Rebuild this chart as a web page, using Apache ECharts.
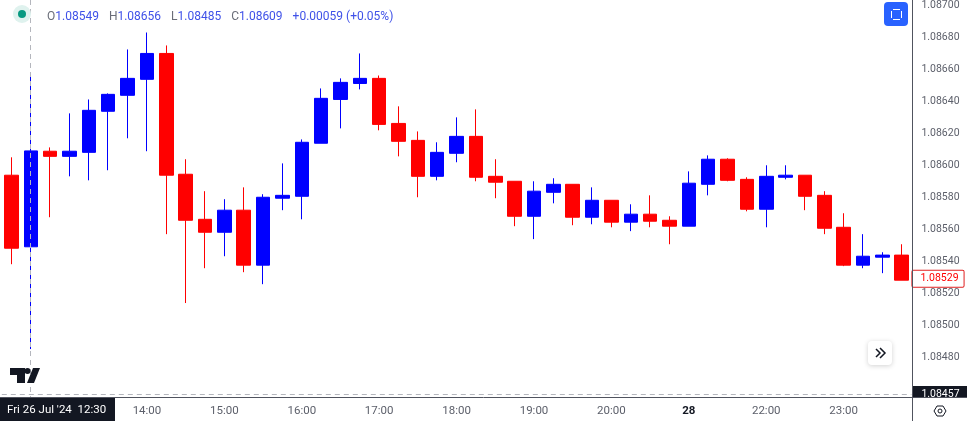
<!DOCTYPE html>
<html>
<head>
<meta charset="utf-8">
<title>EURUSD 15m</title>
<script src="https://cdn.jsdelivr.net/npm/echarts@6/dist/echarts.min.js"></script>
<style>
  html, body { margin: 0; padding: 0; background: #fff; }
  #chart { width: 967px; height: 421px; }
</style>
</head>
<body>
<div id="chart"></div>
<script>
var categories = ["12:15","12:30","12:45","13:00","13:15","13:30","13:45","14:00","14:15","14:30","14:45","15:00",
  "15:15","15:30","15:45","16:00","16:15","16:30","16:45","17:00","17:15","17:30","17:45","18:00",
  "18:15","18:30","18:45","19:00","19:15","19:30","19:45","20:00","20:15","20:30","20:45","28",
  "21:15","21:30","21:45","22:00","22:15","22:30","22:45","23:00","23:15","23:30","23:45"];
var opens = [1.085938,1.085490,1.086088,1.086056,1.086081,1.086338,1.086438,1.086538,1.086700,1.085944,1.085662,1.085581,
  1.085719,1.085375,1.085794,1.085806,1.086138,1.086412,1.086512,1.086544,1.086262,1.086156,1.085931,1.086075,
  1.086181,1.085931,1.085900,1.085681,1.085831,1.085881,1.085675,1.085781,1.085644,1.085694,1.085656,1.085619,
  1.085881,1.086038,1.085912,1.085725,1.085925,1.085938,1.085812,1.085612,1.085375,1.085425,1.085438];
var closes = [1.085481,1.086090,1.086056,1.086088,1.086344,1.086444,1.086544,1.086700,1.085938,1.085656,1.085581,1.085719,
  1.085375,1.085800,1.085812,1.086144,1.086419,1.086519,1.086544,1.086256,1.086150,1.085931,1.086081,1.086181,
  1.085925,1.085894,1.085681,1.085838,1.085881,1.085675,1.085781,1.085644,1.085694,1.085650,1.085619,1.085888,
  1.086038,1.085906,1.085725,1.085931,1.085938,1.085806,1.085606,1.085375,1.085431,1.085438,1.085281];
var lows = [1.085381,1.084850,1.085675,1.085931,1.085906,1.085969,1.086169,1.086088,1.085569,1.085138,1.085356,1.085431,
  1.085331,1.085256,1.085719,1.085662,1.086138,1.086231,1.086475,1.086219,1.086056,1.085800,1.085906,1.086019,
  1.085900,1.085794,1.085619,1.085538,1.085762,1.085625,1.085631,1.085612,1.085588,1.085612,1.085506,1.085619,
  1.085812,1.085900,1.085712,1.085612,1.085912,1.085719,1.085569,1.085369,1.085356,1.085325,1.085281];
var highs = [1.086050,1.086560,1.086112,1.086325,1.086412,1.086450,1.086725,1.086831,1.086750,1.086038,1.085838,1.085788,
  1.085862,1.085819,1.086012,1.086162,1.086481,1.086544,1.086700,1.086562,1.086369,1.086212,1.086144,1.086300,
  1.086350,1.086038,1.085900,1.085900,1.085919,1.085881,1.085862,1.085781,1.085756,1.085812,1.085681,1.085962,
  1.086062,1.086044,1.085925,1.086000,1.086000,1.085938,1.085838,1.085700,1.085569,1.085456,1.085506];

var timeLabels = ["14:00","15:00","16:00","17:00","18:00","19:00","20:00","28","22:00","23:00"];
var priceLabels = [1.087,1.0868,1.0866,1.0864,1.0862,1.086,1.0858,1.0856,1.0854,1.0852,1.085,1.0848];
var crosshairLabel = "Fri 26 Jul '24  12:30";
var lowMarker = 1.084566;
var lastPrice = 1.08529;

var FONT = "Roboto, sans-serif";
var AXIS_DARK = "#50535e";
var DASH = { color: "#b4b6bd", type: [5, 4], width: 1 };

var chart = echarts.init(document.getElementById("chart"), null, { renderer: "canvas" });

var candles = categories.map(function (c, i) {
  return [opens[i], closes[i], lows[i], highs[i]];
});

var option = {
  animation: false,
  backgroundColor: "#ffffff",
  title: {
    left: 47, top: 8, padding: 0,
    text: "{k|O}{v|1.08549}  {k|H}{v|1.08656}  {k|L}{v|1.08485}  {k|C}{v|1.08609}  {v|+0.00059 (+0.05%)}",
    textStyle: {
      fontWeight: "normal",
      rich: {
        k: { fontFamily: FONT, fontSize: 12, fontWeight: "normal", color: "#6a6d78" },
        v: { fontFamily: FONT, fontSize: 12, fontWeight: "normal", color: "#3f51e8" }
      }
    }
  },
  grid: { left: 1.8, right: 55.6, top: 0, bottom: 24 },
  xAxis: {
    type: "category",
    data: categories,
    boundaryGap: true,
    axisLine: { show: false },
    axisTick: { show: false },
    splitLine: { show: false },
    axisLabel: {
      margin: 8,
      fontFamily: FONT,
      fontSize: 11.5,
      color: "#5d606b",
      interval: function (i, name) { return timeLabels.indexOf(name) >= 0; },
      // the day change is written in bold
      formatter: function (name) { return name === "28" ? "{day|28}" : name; },
      rich: {
        day: { fontFamily: FONT, fontSize: 11.5, fontWeight: "bold", color: "#131722" }
      }
    }
  },
  yAxis: {
    type: "value",
    position: "right",
    min: 1.08455,
    max: 1.08703125,
    axisLine: { show: false },
    axisTick: { show: false },
    splitLine: { show: false },
    axisLabel: {
      customValues: priceLabels,
      margin: 10,
      padding: [2, 0, 0, 0],
      fontFamily: FONT,
      fontSize: 10.5,
      color: "#5d606b",
      formatter: function (v) { return v.toFixed(5); }
    }
  },
  series: [
    {
      type: "candlestick",
      data: candles,
      barWidth: 14,
      itemStyle: {
        color: "#0000ff",
        color0: "#ff0000",
        borderColor: "#0000ff",
        borderColor0: "#ff0000",
        borderWidth: 1
      }
    },
    {
      // carries only the crosshair and the price tags, drawn over the candles
      type: "line",
      data: [],
      z: 10,
      markLine: {
        silent: true,
        symbol: "none",
        animation: false,
        precision: 6, // default of 2 rounds every price to 1.08
        data: [
          [
            { x: 30.5, y: 0, lineStyle: DASH, label: { show: false } },
            { x: 30.5, y: 397 }
          ],
          {
            yAxis: lowMarker,
            lineStyle: DASH,
            label: {
              show: true, position: "end", distance: 1,
              formatter: "1.08457",
              fontFamily: FONT, fontSize: 10.5, color: "#ffffff",
              backgroundColor: "#131722",
              padding: [5, 10, 1, 9]
            }
          },
          {
            yAxis: lastPrice,
            lineStyle: { color: "rgba(0,0,0,0)", width: 1 },
            label: {
              show: true, position: "end", distance: 1,
              formatter: "1.08529",
              fontFamily: FONT, fontSize: 10.5, color: "#ff0000",
              backgroundColor: "#ffffff",
              borderColor: "#e02020", borderWidth: 1, borderRadius: 1,
              padding: [3, 5, 2, 8]
            }
          }
        ]
      }
    }
  ],
  graphic: [
    // bottom strip covers the clipped price tag
    { type: "rect", z: 50, shape: { x: 913, y: 398, width: 54, height: 23 }, style: { fill: "#fff" } },
    { type: "line", z: 60, shape: { x1: 0, y1: 397.5, x2: 967, y2: 397.5 }, style: { stroke: AXIS_DARK, lineWidth: 1 } },
    { type: "line", z: 60, shape: { x1: 912.5, y1: 0, x2: 912.5, y2: 421 }, style: { stroke: AXIS_DARK, lineWidth: 1 } },

    // crosshair time tag
    { type: "rect", z: 70, shape: { x: 0, y: 398, width: 115, height: 23 }, style: { fill: "#131722" } },
    { type: "text", z: 71, x: 7, y: 404, style: { text: crosshairLabel, fill: "#fff", font: "11.5px " + FONT } },

    // status dot
    { type: "circle", z: 70, shape: { cx: 22, cy: 14, r: 9 }, style: { fill: "#dff2ee" } },
    { type: "circle", z: 71, shape: { cx: 22, cy: 14, r: 4 }, style: { fill: "#089981" } },

    // blue screenshot button
    { type: "rect", z: 70, shape: { x: 884, y: 2, width: 24, height: 24, r: 4 }, style: { fill: "#2962ff" } },
    { type: "line", z: 71, shape: { x1: 893, y1: 9.5, x2: 900, y2: 9.5 }, style: { stroke: "#fff", lineWidth: 1 } },
    { type: "line", z: 71, shape: { x1: 893, y1: 19.5, x2: 900, y2: 19.5 }, style: { stroke: "#fff", lineWidth: 1 } },
    { type: "line", z: 71, shape: { x1: 891.5, y1: 11, x2: 891.5, y2: 18 }, style: { stroke: "#fff", lineWidth: 1 } },
    { type: "line", z: 71, shape: { x1: 901.5, y1: 11, x2: 901.5, y2: 18 }, style: { stroke: "#fff", lineWidth: 1 } },

    // logo
    { type: "polygon", z: 70, shape: { points: [[10, 368], [25, 368], [25, 383], [17, 383], [17, 375], [10, 375]] }, style: { fill: "#131722" } },
    { type: "circle", z: 70, shape: { cx: 27.5, cy: 371, r: 3 }, style: { fill: "#131722" } },
    { type: "polygon", z: 70, shape: { points: [[33, 368], [40, 368], [34, 383], [27, 383]] }, style: { fill: "#131722" } },

    // scroll button
    {
      type: "rect", z: 70, shape: { x: 868, y: 341, width: 24, height: 24, r: 4 },
      style: { fill: "#fff", shadowBlur: 5, shadowColor: "rgba(0,0,0,0.18)", shadowOffsetY: 1 }
    },
    { type: "polyline", z: 71, shape: { points: [[876, 349], [880, 353], [876, 357]] }, style: { fill: "none", stroke: "#131722", lineWidth: 1.5 } },
    { type: "polyline", z: 71, shape: { points: [[880, 348], [885, 353], [880, 358]] }, style: { fill: "none", stroke: "#131722", lineWidth: 1.5 } },

    // settings hexagon
    { type: "polygon", z: 70, shape: { points: [[934, 411], [937, 406], [943, 406], [946, 411], [943, 416], [937, 416]] }, style: { fill: "none", stroke: "#131722", lineWidth: 1 } },
    { type: "circle", z: 70, shape: { cx: 940, cy: 411, r: 2 }, style: { fill: "none", stroke: "#131722", lineWidth: 1 } }
  ]
};

option && chart.setOption(option);
</script>
</body>
</html>
